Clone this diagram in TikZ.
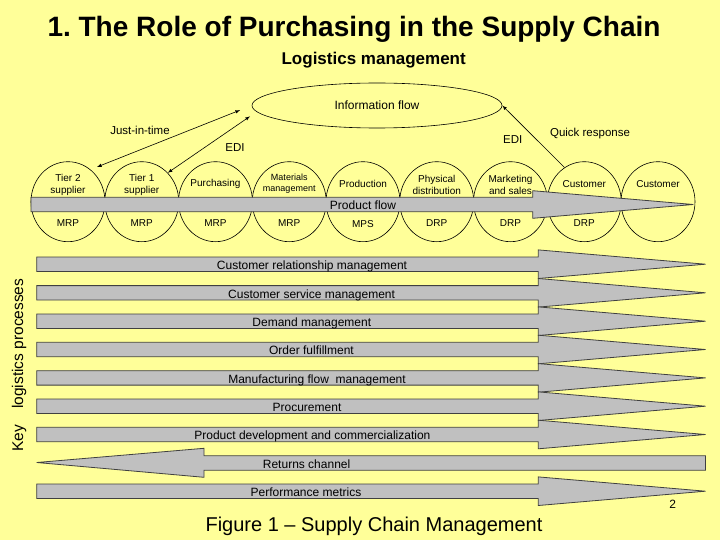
\documentclass[tikz,border=0pt]{standalone}
\usepackage{fontspec}
\setmainfont{Liberation Sans}
\usepackage{xcolor}
\usetikzlibrary{shapes.geometric}
\usetikzlibrary{positioning}
\frenchspacing

\definecolor{slideyellow}{RGB}{255,255,153}
\definecolor{bargray}{RGB}{192,192,192}

\begin{document}
\begin{tikzpicture}[x=1pt,y=-1pt,
  stage/.style={draw=black, line width=0.6pt, ellipse, minimum width=74pt, minimum height=80pt, inner sep=0pt},
  flowbar/.style={draw=black!75, fill=bargray, line width=0.8pt},
  stagetext/.style={align=center, font=\fontsize{10}{12}\selectfont},
  barlabel/.style={font=\fontsize{12}{14}\selectfont, inner sep=0pt, anchor=base},
  linklabel/.style={font=\fontsize{11.5}{14}\selectfont},
  link/.style={line width=0.6pt, >=latex}]

%% background of the slide, it also fixes the size of the page
\fill[slideyellow] (0,0) rectangle (720,540);
\useasboundingbox (0,0) rectangle (720,540);

%% headings
\node[anchor=base, font=\fontsize{28}{34}\selectfont\bfseries] (title) at (354,37) {1. The Role of Purchasing in the Supply Chain};
\node[anchor=base, font=\fontsize{17}{20}\selectfont\bfseries] (logmgmt) at (373.7,65) {Logistics management};

%% information flow on top
\node[draw, ellipse, line width=0.6pt, minimum width=250pt, minimum height=45pt, inner sep=0pt, font=\fontsize{12}{14}\selectfont] (info) at (377,105.5) {Information flow};

%% the chain of stages
\node[stage] (tier2) at (68,201.7) {};
\node[stage] (tier1) at (141.75,201.7) {};
\node[stage] (purch) at (215.5,201.7) {};
\node[stage] (matmgmt) at (289.25,201.7) {};
\node[stage] (prod) at (363,201.7) {};
\node[stage] (physdist) at (436.75,201.7) {};
\node[stage] (mktsales) at (510.5,201.7) {};
\node[stage] (cust1) at (584.25,201.7) {};
\node[stage] (cust2) at (658,201.7) {};

%% product flow runs through the stages
\draw[flowbar] (31,197.3) -- (532.7,197.3) -- (532.7,190.7) -- (693.3,204.5) -- (532.7,218.3) -- (532.7,211.7) -- (31,211.7) -- cycle;
\node[barlabel] (prodflow) at (363,209.5) {Product flow};

%% what each stage is, and its planning system
\node[stagetext] (tier2top) at (68,184.5) {Tier 2\\supplier};
\node[stagetext] (tier1top) at (141.75,184.5) {Tier 1\\supplier};
\node[stagetext] (purchtop) at (215.5,184) {Purchasing};
\node[stagetext, font=\fontsize{9}{10.7}\selectfont] (mattop) at (289.25,184) {Materials\\management};
\node[stagetext] (prodtop) at (363,184) {Production};
\node[stagetext] (phystop) at (436.75,184.5) {Physical\\distribution};
\node[stagetext] (mkttop) at (510.5,184.5) {Marketing\\and sales};
\node[stagetext] (cust1top) at (584.25,184) {Customer};
\node[stagetext] (cust2top) at (658,184) {Customer};
\node[stagetext] (tier2bot) at (68,223.5) {MRP};
\node[stagetext] (tier1bot) at (141.75,223.5) {MRP};
\node[stagetext] (purchbot) at (215.5,223.5) {MRP};
\node[stagetext] (matbot) at (289.25,223.5) {MRP};
\node[stagetext] (prodbot) at (363,224.3) {MPS};
\node[stagetext] (physbot) at (436.75,223.5) {DRP};
\node[stagetext] (mktbot) at (510.5,223.5) {DRP};
\node[stagetext] (cust1bot) at (584.25,223.5) {DRP};

%% links to the information flow
\draw[link,<->,shorten <=7pt,shorten >=12.5pt] (tier2.55) -- (info.180.8);
\draw[link,<->,shorten >=8pt] (tier1.48) -- (info.183.6);
\draw[link,->] (cust1.120.5) -- (info.-0.5);
\node[linklabel] (jit) at (140,130) {Just-in-time};
\node[linklabel] (edileft) at (235,147.3) {EDI};
\node[linklabel] (ediright) at (512.7,140) {EDI};
\node[linklabel] (quick) at (590,134) {Quick response};

%% key logistics processes
\foreach \yc/\lbl/\xc [count=\n] in {264.2/Customer relationship management/312, 292.8/Customer service management/311.6, 321.2/Demand management/311.8, 349.5/Order fulfillment/311.5, 377.9/Manufacturing flow~ management/317, 406.2/Procurement/307, 434.5/Product development and commercialization/312.4, 491.2/Performance metrics/306}
{
  \draw[flowbar] (36.7,\yc-7.2) -- (538.3,\yc-7.2) -- (538.3,\yc-14.3) -- (705.5,\yc) -- (538.3,\yc+14.3) -- (538.3,\yc+7.2) -- (36.7,\yc+7.2) -- cycle;
  \node[barlabel] (proc\n) at (\xc,\yc+5.4) {\lbl};
}
%% the returns go the other way
\draw[flowbar] (705.5,455.8) -- (204,455.8) -- (204,448.3) -- (36.7,462.5) -- (204,477.3) -- (204,470.2) -- (705.5,470.2) -- cycle;
\node[barlabel] (returns) at (306.6,468.4) {Returns channel};

\node[rotate=90, font=\fontsize{15.5}{18}\selectfont] (keyproc) at (19,365) {Key\hspace{16pt}logistics processes};

%% page number and caption
\node[font=\fontsize{12}{14}\selectfont] (pagenum) at (672.7,504) {2};
\node[anchor=base, font=\fontsize{20}{24}\selectfont] (caption) at (374,531.7) {Figure 1 -- Supply Chain Management};
\end{tikzpicture}
\end{document}
